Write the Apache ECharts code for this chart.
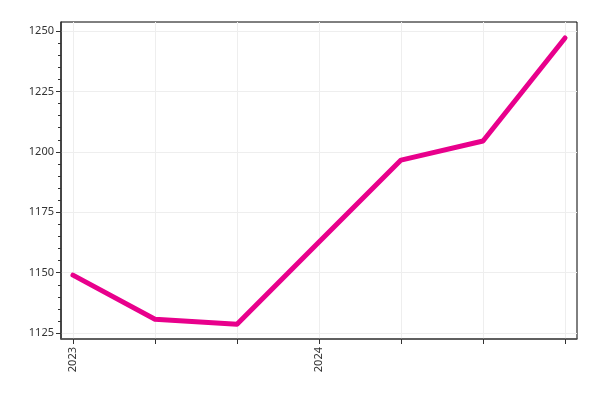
<!DOCTYPE html>
<html><head><meta charset="utf-8">
<script src="https://cdn.jsdelivr.net/npm/echarts@6/dist/echarts.min.js"></script>
<style>html,body{margin:0;padding:0;background:#fff}#c{width:600px;height:400px}</style>
</head><body><div id="c"></div>
<script>
const periods = ['2023', '', '', '2024', '', '', ''];
const values = [1149.0, 1130.8, 1128.7, 1162.7, 1196.6, 1204.5, 1247.1];
const yMajorTicks = [1125, 1150, 1175, 1200, 1225, 1250];
const yMinorTicks = [];
for (let v = 1125; v <= 1250; v += 5) yMinorTicks.push(v);

const idx = periods.map((_, i) => i);
const labelIdx = idx.filter(i => periods[i] !== '');
const font = 'Noto Sans';
const chart = echarts.init(document.getElementById('c'), null, {renderer: 'canvas'});
chart.setOption({
  animation: false,
  grid: {left: 61, right: 23, top: 22, bottom: 61, show: true, borderColor: '#000', borderWidth: 1, backgroundColor: 'transparent'},
  xAxis: {
    type: 'value', min: -0.146, max: idx.length - 1 + 0.146,
    axisLine: {show: true, onZero: false, lineStyle: {color: '#555', width: 1.5}},
    axisTick: {show: true, length: 5, customValues: idx, lineStyle: {color: '#333'}},
    axisLabel: {customValues: labelIdx, rotate: 90, formatter: v => periods[Math.round(v)], color: '#333', fontFamily: font, fontSize: 11, margin: 8},
    splitLine: {show: true, lineStyle: {color: '#eeeeee', width: 1}}
  },
  yAxis: [{
    type: 'value', min: 1122.6, max: 1253.7,
    axisLine: {show: true, onZero: false, lineStyle: {color: '#333', width: 1.5}},
    axisTick: {show: true, length: 5, customValues: yMajorTicks, lineStyle: {color: '#333'}},
    axisLabel: {customValues: yMajorTicks, formatter: v => String(v), color: '#333', fontFamily: font, fontSize: 11, margin: 7},
    splitLine: {show: true, lineStyle: {color: '#eeeeee', width: 1}}
  }, {
    type: 'value', min: 1122.6, max: 1253.7, position: 'left',
    axisLine: {show: false, onZero: false},
    axisTick: {show: true, length: 3, customValues: yMinorTicks, lineStyle: {color: '#333'}},
    axisLabel: {show: false},
    splitLine: {show: false}
  }],
  series: [{
    type: 'line', yAxisIndex: 0,
    data: values.map((v, i) => [idx[i], v]),
    showSymbol: false,
    lineStyle: {color: '#e8008c', width: 5, cap: 'round', join: 'round'},
    itemStyle: {color: '#e8008c'}
  }]
});
</script></body></html>
